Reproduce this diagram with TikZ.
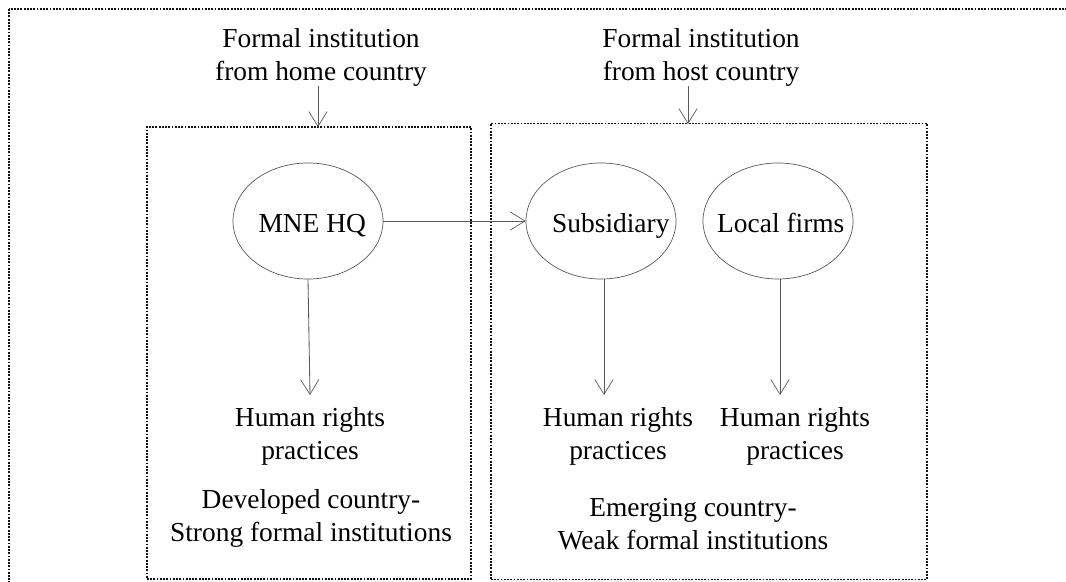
\documentclass[tikz,border=0pt]{standalone}
\usepackage{fontspec}
\setmainfont{Liberation Serif}
\usepackage{xcolor}
\usetikzlibrary{shapes.geometric,arrows.meta,shadows}
\definecolor{diaLine}{HTML}{5A5A5A}
\definecolor{diaDots}{HTML}{111111}
\newcommand{\actxt}[2][0pt]{\makebox[0pt]{\hspace*{#1}\raisebox{-8.5pt}{#2}}}

\begin{document}
\begin{tikzpicture}[
  x=0.025cm, y=-0.025cm,
  font=\fontsize{19.5}{23.5}\selectfont,
  region/.style={draw=diaDots, line width=1.3pt, dash pattern=on 1.3pt off 1pt, fill=white,
                 drop shadow={opacity=0.08, shadow xshift=0pt, shadow yshift=-2.5pt}},
  actor/.style={ellipse, draw=diaLine, line width=0.5pt, minimum width=3.75cm, minimum height=2.9cm,
                inner sep=0pt, text height=0pt, text depth=0pt},
  lbl/.style={align=center, inner sep=0pt},
  flow/.style={-{Straight Barb[length=10.5pt, width=13pt, line width=0.5pt]}, line width=0.6pt, draw=diaLine},
]
\useasboundingbox (0,0) rectangle (1066,582);
\clip (0,0) rectangle (1066,582);

% ── Outer frame and the two country boxes ────────────────────────────────────
\draw[region] (9,9) rectangle (1090,610);
\node[region, minimum width=8.1cm, minimum height=11.3cm, inner sep=0pt] (home) at (309,353) {};
\node[region, minimum width=10.9cm, minimum height=11.4cm, inner sep=0pt] (host) at (709,351.5) {};

% ── Formal institutions on top ───────────────────────────────────────────────
\node[lbl] (fhome) at (321,57) {Formal institution\\from home country};
\node[lbl] (fhost) at (701,57) {Formal institution\\from host country};

% ── Actors ───────────────────────────────────────────────────────────────────
\node[actor] (hq)  at (308,221) {\actxt[6pt]{MNE HQ}};
\node[actor] (sub) at (601,221) {\actxt[14pt]{Subsidiary}};
\node[actor] (loc) at (778,221) {\actxt[4pt]{Local firms}};

% ── Practices ────────────────────────────────────────────────────────────────
\node[lbl] (hrhq)  at (310,436) {Human rights\\practices};
\node[lbl] (hrsub) at (618,436) {Human rights\\practices};
\node[lbl] (hrloc) at (795,436) {Human rights\\practices};

% ── Country labels ───────────────────────────────────────────────────────────
\node[lbl] (dev) at (311,518) {Developed country-\\Strong formal institutions};
\node[lbl] (emg) at (693,524) {Emerging country-\\Weak formal institutions};

% ── Connectors ───────────────────────────────────────────────────────────────
\coordinate (homein) at (318,127);
\coordinate (hostin) at (688,124);
\draw[flow] (fhome.south -| homein) -- (homein);
\draw[flow] (fhost.south -| hostin) -- (hostin);
\draw[flow] (hq) -- (sub);
\draw[flow] (hq.south) -- (hrhq.north |- 0,395);
\draw[flow] (sub.south -| 604,0) -- (604,395);
\draw[flow] (loc.south -| 780,0) -- (780,395);

\end{tikzpicture}
\end{document}
